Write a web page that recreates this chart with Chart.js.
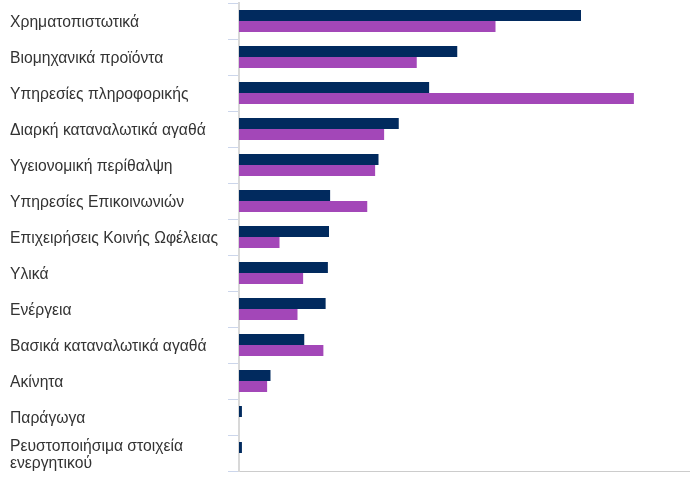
<!DOCTYPE html>
<html>
<head>
<meta charset="utf-8">
<script src="https://cdn.jsdelivr.net/npm/chart.js@4"></script>
<style>
  html, body { margin: 0; padding: 0; background: #fff; }
  #wrap { width: 690px; height: 478px; }
</style>
</head>
<body>
<div id="wrap"><canvas id="sectorChart"></canvas></div>
<script>
// κατηγορίες (τομείς)
const sectors = [
  'Χρηματοπιστωτικά',
  'Βιομηχανικά προϊόντα',
  'Υπηρεσίες πληροφορικής',
  'Διαρκή καταναλωτικά αγαθά',
  'Υγειονομική περίθαλψη',
  'Υπηρεσίες Επικοινωνιών',
  'Επιχειρήσεις Κοινής Ωφέλειας',
  'Υλικά',
  'Ενέργεια',
  'Βασικά καταναλωτικά αγαθά',
  'Ακίνητα',
  'Παράγωγα',
  ['Ρευστοποιήσιμα στοιχεία', 'ενεργητικού']
];

// τιμές σε %
const fundValues = [15.2, 9.7, 8.45, 7.1, 6.2, 4.05, 4.0, 3.95, 3.85, 2.9, 1.4, 0.13, 0.13];
const benchmarkValues = [11.4, 7.9, 17.55, 6.45, 6.05, 5.7, 1.8, 2.85, 2.6, 3.75, 1.25, 0, 0];

const xMax = 20;

const ctx = document.getElementById('sectorChart').getContext('2d');

new Chart(ctx, {
  type: 'bar',
  data: {
    labels: sectors,
    datasets: [{
      label: 'Αμοιβαίο κεφάλαιο',
      data: fundValues,
      backgroundColor: '#012a5e',
      categoryPercentage: 0.61,
      barPercentage: 1.0
    }, {
      label: 'Δείκτης αναφοράς',
      data: benchmarkValues,
      backgroundColor: '#a347b8',
      categoryPercentage: 0.61,
      barPercentage: 1.0
    }]
  },
  options: {
    indexAxis: 'y',
    responsive: true,
    maintainAspectRatio: false,
    animation: false,
    layout: { padding: { left: 10, top: 3, right: 1, bottom: 7 } },
    plugins: {
      legend: { display: false },
      tooltip: { enabled: true }
    },
    scales: {
      x: {
        min: 0,
        max: xMax,
        ticks: { display: false },
        grid: { display: false },
        border: { display: true, color: '#cccccc', width: 1 },
        afterFit: (scale) => { scale.height = 0; scale.paddingLeft = 0; scale.paddingRight = 0; }
      },
      y: {
        afterFit: (scale) => {
          scale.width = 229;
          scale.paddingTop = 0;
          scale.paddingBottom = 0;
        },
        ticks: {
          autoSkip: false,
          crossAlign: 'far',
          labelOffset: 2,
          color: '#333333',
          font: { family: 'Liberation Sans, Arial, sans-serif', size: 15.7, lineHeight: 1.1 }
        },
        grid: {
          offset: true,
          drawOnChartArea: false,
          tickLength: 11,
          color: '#ccd6eb'
        },
        border: { display: true, color: '#d8d8d8', width: 2 }
      }
    }
  }
});
</script>
</body>
</html>
